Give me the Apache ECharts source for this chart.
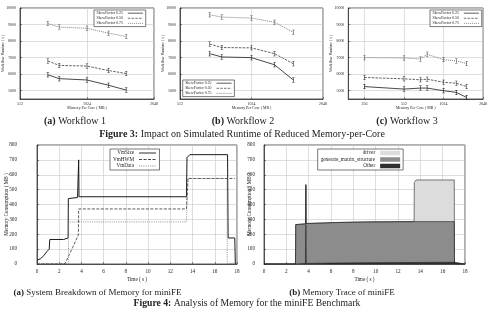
<!DOCTYPE html>
<html>
<head>
<meta charset="utf-8">
<script src="https://cdn.jsdelivr.net/npm/echarts@6/dist/echarts.min.js"></script>
<style>
  html, body { margin: 0; padding: 0; background: #fff; }
  #main { width: 490px; height: 309px; }
</style>
</head>
<body>
<div id="main"></div>
<script>
// Figure 3: simulated runtime vs memory-per-core for three workflows
// Figure 4: miniFE memory (system breakdown + per-function trace)

// ---- Figure 3 data ----
const skewNames = ['SkewFactor 0.25', 'SkewFactor 0.50', 'SkewFactor 0.75'];
const runtimeTicks = [5000, 6000, 7000, 8000, 9000, 10000];

const memWf12 = [683, 768, 1024, 1280, 1536];          // MB per core
const wf1Skew025 = [5960, 5730, 5650, 5330, 5040];
const wf1Skew050 = [6800, 6530, 6490, 6220, 6040];
const wf1Skew075 = [9060, 8850, 8770, 8480, 8270];

const wf2Skew025 = [7240, 7040, 7000, 6570, 5650];
const wf2Skew050 = [7820, 7610, 7590, 7240, 6630];
const wf2Skew075 = [9590, 9450, 9390, 9140, 8530];

const memWf3 = [256, 512, 683, 768, 1024, 1280, 1536];
const wf3Skew025 = [5250, 5100, 5160, 5160, 5000, 4900, 4590];
const wf3Skew050 = [5800, 5720, 5660, 5700, 5510, 5450, 5250];
const wf3Skew075 = [7000, 6980, 6920, 7200, 6880, 6800, 6640];

// ---- Figure 4a: system breakdown (time s, MB) ----
const vmSizeTime = [0, 0.3, 0.6, 0.9, 1.1, 1.15, 2.4, 2.45, 2.8, 2.82, 3.65, 3.72, 3.75, 3.78, 13.45, 13.5, 13.75, 17.15, 17.2, 17.8, 17.85];
const vmSizeMB   = [25, 35, 55, 85, 100, 165, 165, 172, 175, 440, 447, 450, 700, 452, 452, 715, 735, 735, 175, 175, 0];

const vmHwmTime = [0, 2.5, 3.2, 3.72, 3.75, 13.45, 13.6, 17.8];
const vmHwmMB   = [0, 0, 110, 195, 370, 370, 575, 575];

const vmDataTime = [0, 2.82, 2.85, 13.45, 13.55, 17.1, 17.12, 17.8];
const vmDataMB   = [0, 0, 283, 283, 575, 575, 5, 5];

// ---- Figure 4b: memory trace, stacked layers (time s, MB) ----
const traceNames = ['driver', 'generate_matrix_structure', 'Other'];
const traceTime   = [0, 2.82, 2.84, 3.72, 3.75, 3.78, 6, 9, 13.44, 13.46, 13.62, 17.04, 17.06, 18];
const traceOther  = [0, 0, 2, 4, 265, 4, 6, 8, 10, 10, 10, 12, 0, 0];
const traceGms    = [0, 0, 263, 266, 268, 268, 272, 275, 275, 275, 275, 273, 0, 0];
const traceDriver = [0, 0, 0, 0, 0, 0, 0, 0, 0, 262, 280, 280, 0, 0];

const serif = 'Liberation Serif';
const ink = '#1e1e1e';
const gridLine = '#c8c8c8';
const tinyFont = { fontFamily: serif, fontSize: 3.9, color: '#222' };
const smallFont = { fontFamily: serif, fontSize: 5.2, color: '#222' };

function pairs(xs, ys) {
  return xs.map(function (x, i) { return [x, ys[i]]; });
}
function plain(v) { return String(v); }

// gnuplot-ish frame pieces shared by every axis
function frameAxis(extra) {
  return Object.assign({
    nameMoveOverlap: false,
    axisLine: { onZero: false, lineStyle: { color: ink, width: 0.7 } },
    axisTick: { inside: true, length: 2, lineStyle: { color: ink, width: 0.5 } },
    splitLine: { show: true, lineStyle: { color: gridLine, width: 0.6 } }
  }, extra);
}

function runtimeXAxis(gridIndex, min) {
  return frameAxis({
    gridIndex: gridIndex, type: 'log', logBase: 2, min: min, max: 2048,
    name: 'Memory Per Core ( MB )', nameLocation: 'middle', nameGap: 7,
    nameTextStyle: tinyFont,
    axisLabel: Object.assign({ margin: 2.5, showMinLabel: min === 512, formatter: plain }, tinyFont)
  });
}

function runtimeYAxis(gridIndex) {
  const ax = frameAxis({
    gridIndex: gridIndex, type: 'value', min: 4500, max: 10000,
    name: 'Workflow Runtime ( s )', nameLocation: 'middle', nameGap: 15,
    nameTextStyle: tinyFont,
    axisLabel: Object.assign({ margin: 4, customValues: runtimeTicks, formatter: plain }, tinyFont)
  });
  ax.axisTick.customValues = runtimeTicks;
  return ax;
}

function memXAxis(gridIndex) {
  return frameAxis({
    gridIndex: gridIndex, type: 'value', min: 0, max: 18, interval: 2,
    name: 'Time ( s )', nameLocation: 'middle', nameGap: 13,
    nameTextStyle: smallFont,
    axisLabel: Object.assign({ margin: 5 }, smallFont)
  });
}

function memYAxis(gridIndex, labelMargin, nameGap) {
  return frameAxis({
    gridIndex: gridIndex, type: 'value', min: 0, max: 800, interval: 100,
    name: 'Memory Consumption ( MB )', nameLocation: 'middle', nameGap: nameGap,
    nameTextStyle: smallFont,
    axisLabel: Object.assign({ margin: labelMargin }, smallFont)
  });
}

const skewStyles = [
  { color: '#1a1a1a', type: 'solid' },
  { color: '#3a3a3a', type: [2.5, 1.2] },
  { color: '#5a5a5a', type: [1, 1] }
];
// small I-beam marker, like the error bars of the original
const errMark = 'path://M0,0H4V1H2.5V9H4V10H0V9H1.5V1H0Z';

function runtimeSeries(axisIndex, mem, values) {
  return values.map(function (vals, k) {
    return {
      name: skewNames[k], type: 'line', xAxisIndex: axisIndex, yAxisIndex: axisIndex,
      data: pairs(mem, vals),
      symbol: errMark, symbolSize: [2.4, 5], symbolKeepAspect: false,
      itemStyle: { color: skewStyles[k].color },
      lineStyle: { color: skewStyles[k].color, type: skewStyles[k].type, width: 0.8 },
      animation: false
    };
  });
}

function runtimeLegend(left, top) {
  return {
    data: skewNames, orient: 'vertical', left: left, top: top, align: 'right',
    selectedMode: false, backgroundColor: '#fff', borderColor: ink, borderWidth: 0.6,
    padding: [1.2, 2.5], itemGap: 1.1, itemWidth: 15, itemHeight: 4,
    itemStyle: { opacity: 0 },
    lineStyle: { width: 0.7 },
    textStyle: tinyFont
  };
}

const memLines = [
  { name: 'VmSize', time: vmSizeTime, mb: vmSizeMB, color: '#1a1a1a', type: 'solid', width: 1 },
  { name: 'VmHWM', time: vmHwmTime, mb: vmHwmMB, color: '#333333', type: [3, 1.5], width: 0.8 },
  { name: 'VmData', time: vmDataTime, mb: vmDataMB, color: '#7a7a7a', type: [1, 1.2], width: 0.8 }
];

// layers are painted back to front, each filled from zero up to its cumulative top
const traceGmsTop = traceGms.map(function (v, i) { return v + traceOther[i]; });
const traceDriverTop = traceDriver.map(function (v, i) { return v + traceGmsTop[i]; });
const traceLayers = [
  { name: 'driver', tops: traceDriverTop, fill: '#dcdcdc' },
  { name: 'generate_matrix_structure', tops: traceGmsTop, fill: '#8c8c8c' },
  { name: 'Other', tops: traceOther, fill: '#2e2e2e' }
];

const series = []
  .concat(runtimeSeries(0, memWf12, [wf1Skew025, wf1Skew050, wf1Skew075]))
  .concat(runtimeSeries(1, memWf12, [wf2Skew025, wf2Skew050, wf2Skew075]))
  .concat(runtimeSeries(2, memWf3, [wf3Skew025, wf3Skew050, wf3Skew075]))
  .concat(memLines.map(function (s) {
    return {
      name: s.name, type: 'line', xAxisIndex: 3, yAxisIndex: 3,
      data: pairs(s.time, s.mb), symbol: 'none',
      itemStyle: { color: s.color },
      lineStyle: { color: s.color, type: s.type, width: s.width },
      animation: false
    };
  }))
  .concat(traceLayers.map(function (l) {
    return {
      name: l.name, type: 'line', xAxisIndex: 4, yAxisIndex: 4,
      data: pairs(traceTime, l.tops), symbol: 'none',
      itemStyle: { color: l.fill },
      lineStyle: { color: '#262626', width: 0.6 },
      areaStyle: { color: l.fill, opacity: 1, origin: 'start' },
      animation: false
    };
  }));

function caption(x, y, bold, rest, size) {
  return {
    type: 'text', x: x, y: y,
    style: {
      text: '{b|' + bold + '} ' + rest, align: 'center', verticalAlign: 'middle',
      font: size + 'px "Liberation Serif"', fill: '#222',
      rich: { b: { fontWeight: 'bold', fontFamily: serif, fontSize: size } }
    }
  };
}

const option = {
  animation: false,
  backgroundColor: '#fff',
  grid: [
    { left: 11.7, top: 8, width: 142.3, height: 91 },
    { left: 180, top: 8, width: 143, height: 91 },
    { left: 348.3, top: 8, width: 140.2, height: 91 },
    { left: 37, top: 145, width: 200, height: 119 },
    { left: 264, top: 145, width: 201, height: 119 }
  ].map(function (g) {
    return Object.assign({ show: true, borderColor: ink, borderWidth: 0.7, containLabel: false }, g);
  }),
  xAxis: [runtimeXAxis(0, 512), runtimeXAxis(1, 512), runtimeXAxis(2, 193), memXAxis(3), memXAxis(4)],
  yAxis: [runtimeYAxis(0), runtimeYAxis(1), runtimeYAxis(2), memYAxis(3, 20, 28), memYAxis(4, 9, 12)],
  legend: [
    runtimeLegend(94, 10),
    runtimeLegend(182.7, 80),
    runtimeLegend(430, 10),
    {
      data: ['VmSize', 'VmHWM', 'VmData'], orient: 'vertical', left: 110, top: 149, align: 'right',
      selectedMode: false, backgroundColor: '#fff', borderColor: ink, borderWidth: 0.6,
      padding: [1.5, 3], itemGap: 1.5, itemWidth: 17, itemHeight: 5,
      itemStyle: { opacity: 0 }, lineStyle: { width: 0.9 }, textStyle: smallFont
    },
    {
      data: traceNames, orient: 'vertical', left: 317.7, top: 149, align: 'right',
      selectedMode: false, backgroundColor: '#fff', borderColor: ink, borderWidth: 0.6,
      padding: [1.5, 3], itemGap: 1.5, itemWidth: 20, itemHeight: 4.5, icon: 'rect',
      textStyle: smallFont
    }
  ],
  graphic: [
    caption(75, 121.7, '(a)', 'Workflow 1', 10),
    caption(243, 121.7, '(b)', 'Workflow 2', 10),
    caption(407, 121.7, '(c)', 'Workflow 3', 10),
    caption(242, 134, 'Figure 3:', 'Impact on Simulated Runtime of Reduced Memory-per-Core', 10),
    caption(97.5, 292.7, '(a)', 'System Breakdown of Memory for miniFE', 9),
    caption(342, 292.7, '(b)', 'Memory Trace of miniFE', 9),
    caption(247, 303.3, 'Figure 4:', 'Analysis of Memory for the miniFE Benchmark', 9.7)
  ],
  series: series
};

const chart = echarts.init(document.getElementById('main'), null, { renderer: 'canvas', devicePixelRatio: 1 });
chart.setOption(option);
</script>
</body>
</html>
